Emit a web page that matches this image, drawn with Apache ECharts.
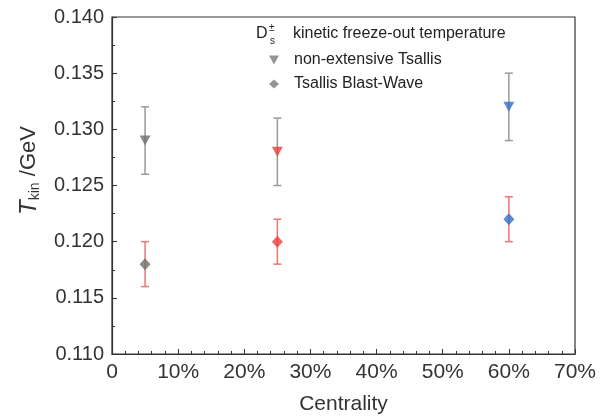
<!DOCTYPE html>
<html>
<head>
<meta charset="utf-8">
<script src="https://cdn.jsdelivr.net/npm/echarts@6/dist/echarts.min.js"></script>
<style>
html, body { margin: 0; padding: 0; background: #fff; }
#main { width: 608px; height: 416px; }
</style>
</head>
<body>
<div id="main"></div>
<script>
var centrality = [5, 25, 60];
var tsallis = [0.129, 0.128, 0.132];
var tsallisErr = [0.003, 0.003, 0.003];
var blast = [0.118, 0.120, 0.122];
var blastErr = [0.002, 0.002, 0.002];
var pointColors = ['#6e6e6e', '#e8403d', '#2f6fc4'];

var font = 'Liberation Sans, Arial, sans-serif';
var triDown = 'path://M0,0L10,0L5,9Z';

function pts(vals) {
    var out = [];
    for (var i in vals) {
        out.push({value: [centrality[i], vals[i]], itemStyle: {color: pointColors[i]}});
    }
    return out;
}
function errData(vals, errs) {
    var out = [];
    for (var i in vals) {
        out.push([centrality[i], vals[i] - errs[i], vals[i] + errs[i]]);
    }
    return out;
}
function errBar(color) {
    return function(params, api) {
        var lo = api.coord([api.value(0), api.value(1)]);
        var hi = api.coord([api.value(0), api.value(2)]);
        var w = 4;
        var st = {stroke: color, lineWidth: 1.5};
        return {
            type: 'group',
            children: [
                {type: 'line', shape: {x1: lo[0], y1: lo[1], x2: hi[0], y2: hi[1]}, style: st},
                {type: 'line', shape: {x1: lo[0] - w, y1: lo[1], x2: lo[0] + w, y2: lo[1]}, style: st},
                {type: 'line', shape: {x1: hi[0] - w, y1: hi[1], x2: hi[0] + w, y2: hi[1]}, style: st}
            ]
        };
    };
}

var chart = echarts.init(document.getElementById('main'));
chart.setOption({
    backgroundColor: '#fff',
    animation: false,
    grid: {
        left: 112, right: 33, top: 17, bottom: 62,
        outerBoundsMode: 'none',
        show: true, borderColor: '#333', borderWidth: 1.2
    },
    legend: {
        orient: 'vertical',
        left: 264,
        top: 47,
        itemWidth: 10,
        itemHeight: 9,
        itemGap: 8,
        textStyle: {fontFamily: font, fontSize: 16, color: '#222', padding: [0, 0, 0, 10]},
        data: [
            {name: 'non-extensive Tsallis', icon: triDown, itemStyle: {color: '#7a7a7a'}},
            {name: 'Tsallis Blast-Wave', icon: 'diamond', itemStyle: {color: '#7a7a7a'}}
        ]
    },
    graphic: [
        {type: 'text', left: 256, top: 26, style: {text: 'D', fontFamily: font, fontSize: 16, fill: '#222'}},
        {type: 'text', left: 269, top: 23, style: {text: '±', fontFamily: font, fontSize: 10, fill: '#222'}},
        {type: 'text', left: 270, top: 36, style: {text: 's', fontFamily: font, fontSize: 10, fill: '#222'}},
        {type: 'text', left: 293, top: 26, style: {text: 'kinetic freeze-out temperature', fontFamily: font, fontSize: 16, fill: '#222'}}
    ],
    xAxis: {
        type: 'value',
        min: 0,
        max: 70,
        interval: 10,
        name: 'Centrality',
        nameLocation: 'middle',
        nameGap: 40,
        nameTextStyle: {fontFamily: font, fontSize: 21, color: '#333'},
        axisLine: {lineStyle: {color: '#333', width: 1.2}},
        axisTick: {inside: true, length: 5, lineStyle: {color: '#333'}},
        minorTick: {show: true, splitNumber: 5, length: 3, lineStyle: {color: '#333'}},
        splitLine: {show: false},
        axisLabel: {
            fontFamily: font, fontSize: 21, color: '#333', margin: 8,
            formatter: function(v) { return v === 0 ? '0' : v + '%'; }
        }
    },
    yAxis: {
        type: 'value',
        min: 0.110,
        max: 0.140,
        interval: 0.005,
        name: '{i|T}{sub|kin}{n| /GeV}',
        nameLocation: 'middle',
        nameGap: 70,
        nameTextStyle: {
            padding: [0, 0, 0, 30],
            rich: {
                i: {fontFamily: font, fontSize: 24, fontStyle: 'italic', color: '#333'},
                sub: {fontFamily: font, fontSize: 14, color: '#333', padding: [12, 0, 0, 0]},
                n: {fontFamily: font, fontSize: 22, color: '#333'}
            }
        },
        axisLine: {lineStyle: {color: '#333', width: 1.2}},
        axisTick: {inside: true, length: 5, lineStyle: {color: '#333'}},
        minorTick: {show: true, splitNumber: 2, length: 3, lineStyle: {color: '#333'}},
        splitLine: {show: false},
        axisLabel: {
            fontFamily: font, fontSize: 20, color: '#333', margin: 8,
            formatter: function(v) { return v.toFixed(3); }
        }
    },
    series: [
        {type: 'custom', name: 'tsallisErr', renderItem: errBar('#9a9a9a'), data: errData(tsallis, tsallisErr), z: 1, silent: true},
        {type: 'custom', name: 'blastErr', renderItem: errBar('#f07575'), data: errData(blast, blastErr), z: 1, silent: true},
        {type: 'scatter', name: 'non-extensive Tsallis', symbol: triDown, symbolSize: [11, 10], data: pts(tsallis), itemStyle: {color: '#6e6e6e'}, z: 3},
        {type: 'scatter', name: 'Tsallis Blast-Wave', symbol: 'diamond', symbolSize: [11, 12], data: pts(blast), itemStyle: {color: '#6e6e6e'}, z: 3}
    ]
});
</script>
</body>
</html>
